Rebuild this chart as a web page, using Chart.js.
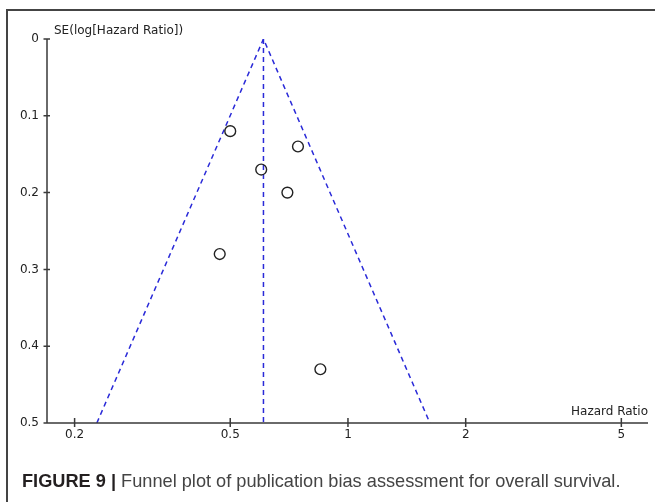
<!DOCTYPE html>
<html>
<head>
<meta charset="utf-8">
<script src="https://cdn.jsdelivr.net/npm/chart.js@4"></script>
<style>
  body { margin: 0; background: #fff; }
  #wrap { width: 655px; height: 502px; }
</style>
</head>
<body>
<div id="wrap"><canvas id="funnel" width="655" height="502"></canvas></div>
<script>
// valores
const hrTicks = [0.2, 0.5, 1, 2, 5];
const seTicks = [0, 0.1, 0.2, 0.3, 0.4, 0.5];
const studyHR = [0.50, 0.745, 0.60, 0.70, 0.47, 0.85];
const studySE = [0.12, 0.14, 0.17, 0.20, 0.28, 0.43];
const pooledHR = [0.608, 0.608];
const pooledSE = [0, 0.5];
const funnelHR = [0.228, 0.608, 1.62];
const funnelSE = [0.5, 0, 0.5];

const yTitle = "SE(log[Hazard Ratio])";
const xTitle = "Hazard Ratio";
const capBold = "FIGURE 9 | ";
const capText = "Funnel plot of publication bias assessment for overall survival.";

const axisFont = { family: "DejaVu Sans", size: 12 };
const blue = "#2a2ad8";

const toPoints = (xs, ys) => xs.map((x, i) => ({ x: x, y: ys[i] }));

// ejes, marcas cruzadas, titulos y pie de figura
const extras = {
  id: "extras",
  afterDraw(chart) {
    const c = chart.ctx;
    const xs = chart.scales.x, ys = chart.scales.y;
    const a = chart.chartArea;
    c.save();
    // marco de la figura
    c.strokeStyle = "#444";
    c.lineWidth = 2;
    c.beginPath();
    c.moveTo(7, 502);
    c.lineTo(7, 10);
    c.lineTo(655, 10);
    c.stroke();

    c.strokeStyle = "#3a3a3a";
    c.lineWidth = 1.5;
    c.beginPath();
    c.moveTo(a.left, ys.getPixelForValue(0));
    c.lineTo(a.left, a.bottom);
    c.lineTo(a.right, a.bottom);
    seTicks.forEach(v => {
      const py = ys.getPixelForValue(v);
      c.moveTo(a.left - 3.5, py);
      c.lineTo(a.left + 3, py);
    });
    hrTicks.forEach(v => {
      const px = xs.getPixelForValue(v);
      c.moveTo(px, a.bottom - 5);
      c.lineTo(px, a.bottom + 4);
    });
    c.stroke();

    c.fillStyle = "#222";
    c.font = "12px 'DejaVu Sans'";
    c.textBaseline = "middle";
    c.textAlign = "left";
    c.fillText(yTitle, a.left + 7, 31);
    c.textAlign = "right";
    c.fillText(xTitle, a.right, 412);

    // pie de figura
    c.textAlign = "left";
    c.textBaseline = "alphabetic";
    c.font = "bold 18.2px 'Liberation Sans'";
    c.fillStyle = "#231f20";
    c.fillText(capBold, 22, 487);
    const w = c.measureText(capBold).width;
    c.font = "18.2px 'Liberation Sans'";
    c.fillStyle = "#444";
    c.fillText(capText, 22 + w, 487);
    c.restore();
  }
};

new Chart(document.getElementById("funnel"), {
  type: "scatter",
  data: {
    datasets: [
      {
        label: "Estudios",
        data: toPoints(studyHR, studySE),
        pointStyle: "circle",
        pointRadius: 5.4,
        pointBorderWidth: 1.4,
        borderColor: "#222",
        backgroundColor: "rgba(0,0,0,0)",
        showLine: false
      },
      {
        label: "Efecto combinado",
        data: toPoints(pooledHR, pooledSE),
        showLine: true,
        borderColor: blue,
        borderWidth: 1.5,
        borderDash: [5, 4],
        pointRadius: 0,
        order: 2
      },
      {
        label: "IC 95%",
        data: toPoints(funnelHR, funnelSE),
        showLine: true,
        borderColor: blue,
        borderWidth: 1.5,
        borderDash: [5, 4],
        pointRadius: 0,
        order: 2
      }
    ]
  },
  options: {
    responsive: false,
    animation: false,
    layout: { padding: { left: 0, top: 39, right: 7, bottom: 49 } },
    plugins: { legend: { display: false }, tooltip: { enabled: false } },
    scales: {
      x: {
        type: "logarithmic",
        min: 0.17,
        max: 5.85,
        afterBuildTicks: s => { s.ticks = hrTicks.map(v => ({ value: v })); },
        afterFit: s => { s.height = 30; },
        grid: { display: false, drawTicks: false },
        border: { display: false },
        ticks: {
          font: axisFont,
          color: "#222",
          padding: 5,
          maxRotation: 0,
          autoSkip: false,
          callback: v => String(v)
        }
      },
      y: {
        type: "linear",
        reverse: true,
        min: 0,
        max: 0.5,
        afterBuildTicks: s => { s.ticks = seTicks.map(v => ({ value: v })); },
        afterFit: s => { s.width = 47; },
        grid: { display: false, drawTicks: false },
        border: { display: false },
        ticks: {
          font: axisFont,
          color: "#222",
          padding: 8,
          callback: v => String(v)
        }
      }
    }
  },
  plugins: [extras]
});
</script>
</body>
</html>
